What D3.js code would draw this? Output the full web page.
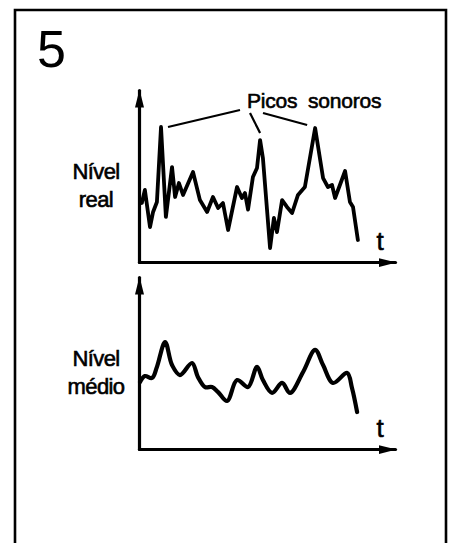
<!DOCTYPE html>
<html>
<head>
<meta charset="utf-8">
<script src="https://cdn.jsdelivr.net/npm/d3@7"></script>
<style>
  html, body { margin: 0; padding: 0; background: #fff; }
  svg { display: block; }
  text { font-family: "Liberation Sans", Arial, Helvetica, sans-serif; fill: #000; }
</style>
</head>
<body>
<svg id="chart" width="450" height="543"></svg>
<script>
// ---- Data (time t in 0..100, level in 0..100) ----
const realT =     [0.4, 1.1, 2.3, 4.3, 5.5, 7.0, 8.6, 10.5, 12.9, 14.1, 15.6, 17.2, 21.1, 23.8, 26.6, 28.9, 30.9, 32.8, 34.8, 38.3, 40.2, 41.4, 42.6, 44.5, 46.1, 47.3, 48.4, 51.2, 52.7, 53.9, 55.9, 57.8, 59.8, 62.1, 64.8, 68.8, 71.9, 73.8, 75.4, 76.6, 80.5, 82.4, 83.6, 85.5];
const realLevel = [36, 34.3, 41.9, 20.3, 29.1, 34.9, 78.5, 26.2, 55.2, 37.8, 45.9, 39, 52.3, 36, 29.1, 37.8, 31.4, 34.3, 18.6, 43.6, 37.2, 40.1, 30.5, 49.4, 54.7, 70.9, 60.5, 8.1, 25.6, 17.4, 36, 32, 28.5, 39, 43.6, 77.9, 48.8, 43.6, 44.8, 37.2, 52.9, 34.9, 32, 12.8];

const meanT =     [0.4, 2.3, 5.1, 7.0, 10.2, 12.9, 16.0, 20.7, 23.0, 25.8, 28.5, 30.9, 34.4, 38.3, 42.6, 46.1, 48.4, 52.0, 55.9, 59.0, 64.1, 68.8, 71.9, 75.8, 81.3, 83.2, 85.2];
const meanLevel = [39, 42.4, 41.3, 47.7, 62.2, 48.8, 43, 50, 41.9, 36, 36, 33.1, 27.9, 40.1, 36, 47.7, 40.1, 32.6, 38.4, 32.6, 44.8, 57.6, 48.8, 38.4, 44.2, 35.5, 21.5];

// Peaks annotated as "Picos sonoros" (t, level of the marked peak)
const peakT =     [8.6, 47.3, 68.8];
const peakLevel = [78.5, 70.9, 77.9];

const figureNumber = "5";
const annotationLabel = "Picos sonoros";
const topLabel = ["Nível", "real"];
const bottomLabel = ["Nível", "médio"];
const axisLabel = "t";

// ---- Drawing ----
const svg = d3.select("#chart");

// frame (open at the bottom)
svg.append("path")
  .attr("d", "M15,548V10H446V548")
  .attr("fill", "none").attr("stroke", "#000").attr("stroke-width", 2.6);

svg.append("text")
  .attr("x", 37).attr("y", 67)
  .attr("font-size", 52)
  .text(figureNumber);

// arrow marker
const defs = svg.append("defs");
defs.append("marker")
  .attr("id", "arrow")
  .attr("markerUnits", "userSpaceOnUse")
  .attr("viewBox", "0 0 18 10")
  .attr("markerWidth", 18).attr("markerHeight", 10)
  .attr("refX", 17).attr("refY", 5)
  .attr("orient", "auto")
  .append("path")
  .attr("d", "M0,0.5L18,5L0,9.5Z")
  .attr("fill", "#000");

const x = d3.scaleLinear().domain([0, 100]).range([139, 395]);

function boldText(sel) {
  return sel.attr("stroke", "#000").attr("stroke-width", 0.6).attr("paint-order", "stroke");
}

function panel(originY, tVals, lVals, lineWidth, curve, labels, labelY) {
  const y = d3.scaleLinear().domain([0, 100]).range([originY, originY - 172]);
  const g = svg.append("g");

  const ax = g.append("g").attr("transform", `translate(0,${originY})`)
    .call(d3.axisBottom(x).ticks(0).tickSizeOuter(0));
  const ay = g.append("g").attr("transform", `translate(${x(0)},0)`)
    .call(d3.axisLeft(y).ticks(0).tickSizeOuter(0));
  [ax, ay].forEach(a => a.select(".domain")
    .attr("stroke", "#000").attr("stroke-width", 3.2)
    .attr("stroke-linecap", "round")
    .attr("marker-end", "url(#arrow)"));

  const pts = tVals.map((t, i) => [t, lVals[i]]);
  g.append("path")
    .datum(pts)
    .attr("fill", "none").attr("stroke", "#000")
    .attr("stroke-width", lineWidth)
    .attr("stroke-linejoin", "round").attr("stroke-linecap", "round")
    .attr("d", d3.line().x(d => x(d[0])).y(d => y(d[1])).curve(curve));

  boldText(g.append("text")
    .attr("x", 380).attr("y", originY - 12)
    .attr("font-size", 26).attr("text-anchor", "middle")
    .text(axisLabel));

  labels.forEach((s, i) => {
    boldText(g.append("text")
      .attr("x", 96).attr("y", labelY + i * 27.5)
      .attr("font-size", 22).attr("text-anchor", "middle")
      .attr("letter-spacing", -0.6)
      .text(s));
  });
  return y;
}

const yTop = panel(262, realT, realLevel, 3.8, d3.curveLinear, topLabel, 179);
panel(449, meanT, meanLevel, 4.2, d3.curveCatmullRom.alpha(0.5), bottomLabel, 366);

// annotation
boldText(svg.append("text")
  .attr("x", 247).attr("y", 108)
  .attr("font-size", 21).attr("word-spacing", 5)
  .attr("letter-spacing", -0.2)
  .text(annotationLabel));

// leader lines: [from near text] -> [offset from peak]
const leaderFrom = [[240, 110], [250, 113], [263, 113]];
const leaderOff  = [[7, 0], [0, -7], [-8, -3]];
peakT.forEach((t, i) => {
  svg.append("line")
    .attr("x1", leaderFrom[i][0]).attr("y1", leaderFrom[i][1])
    .attr("x2", x(t) + leaderOff[i][0]).attr("y2", yTop(peakLevel[i]) + leaderOff[i][1])
    .attr("stroke", "#000").attr("stroke-width", 2.2);
});
</script>
</body>
</html>
